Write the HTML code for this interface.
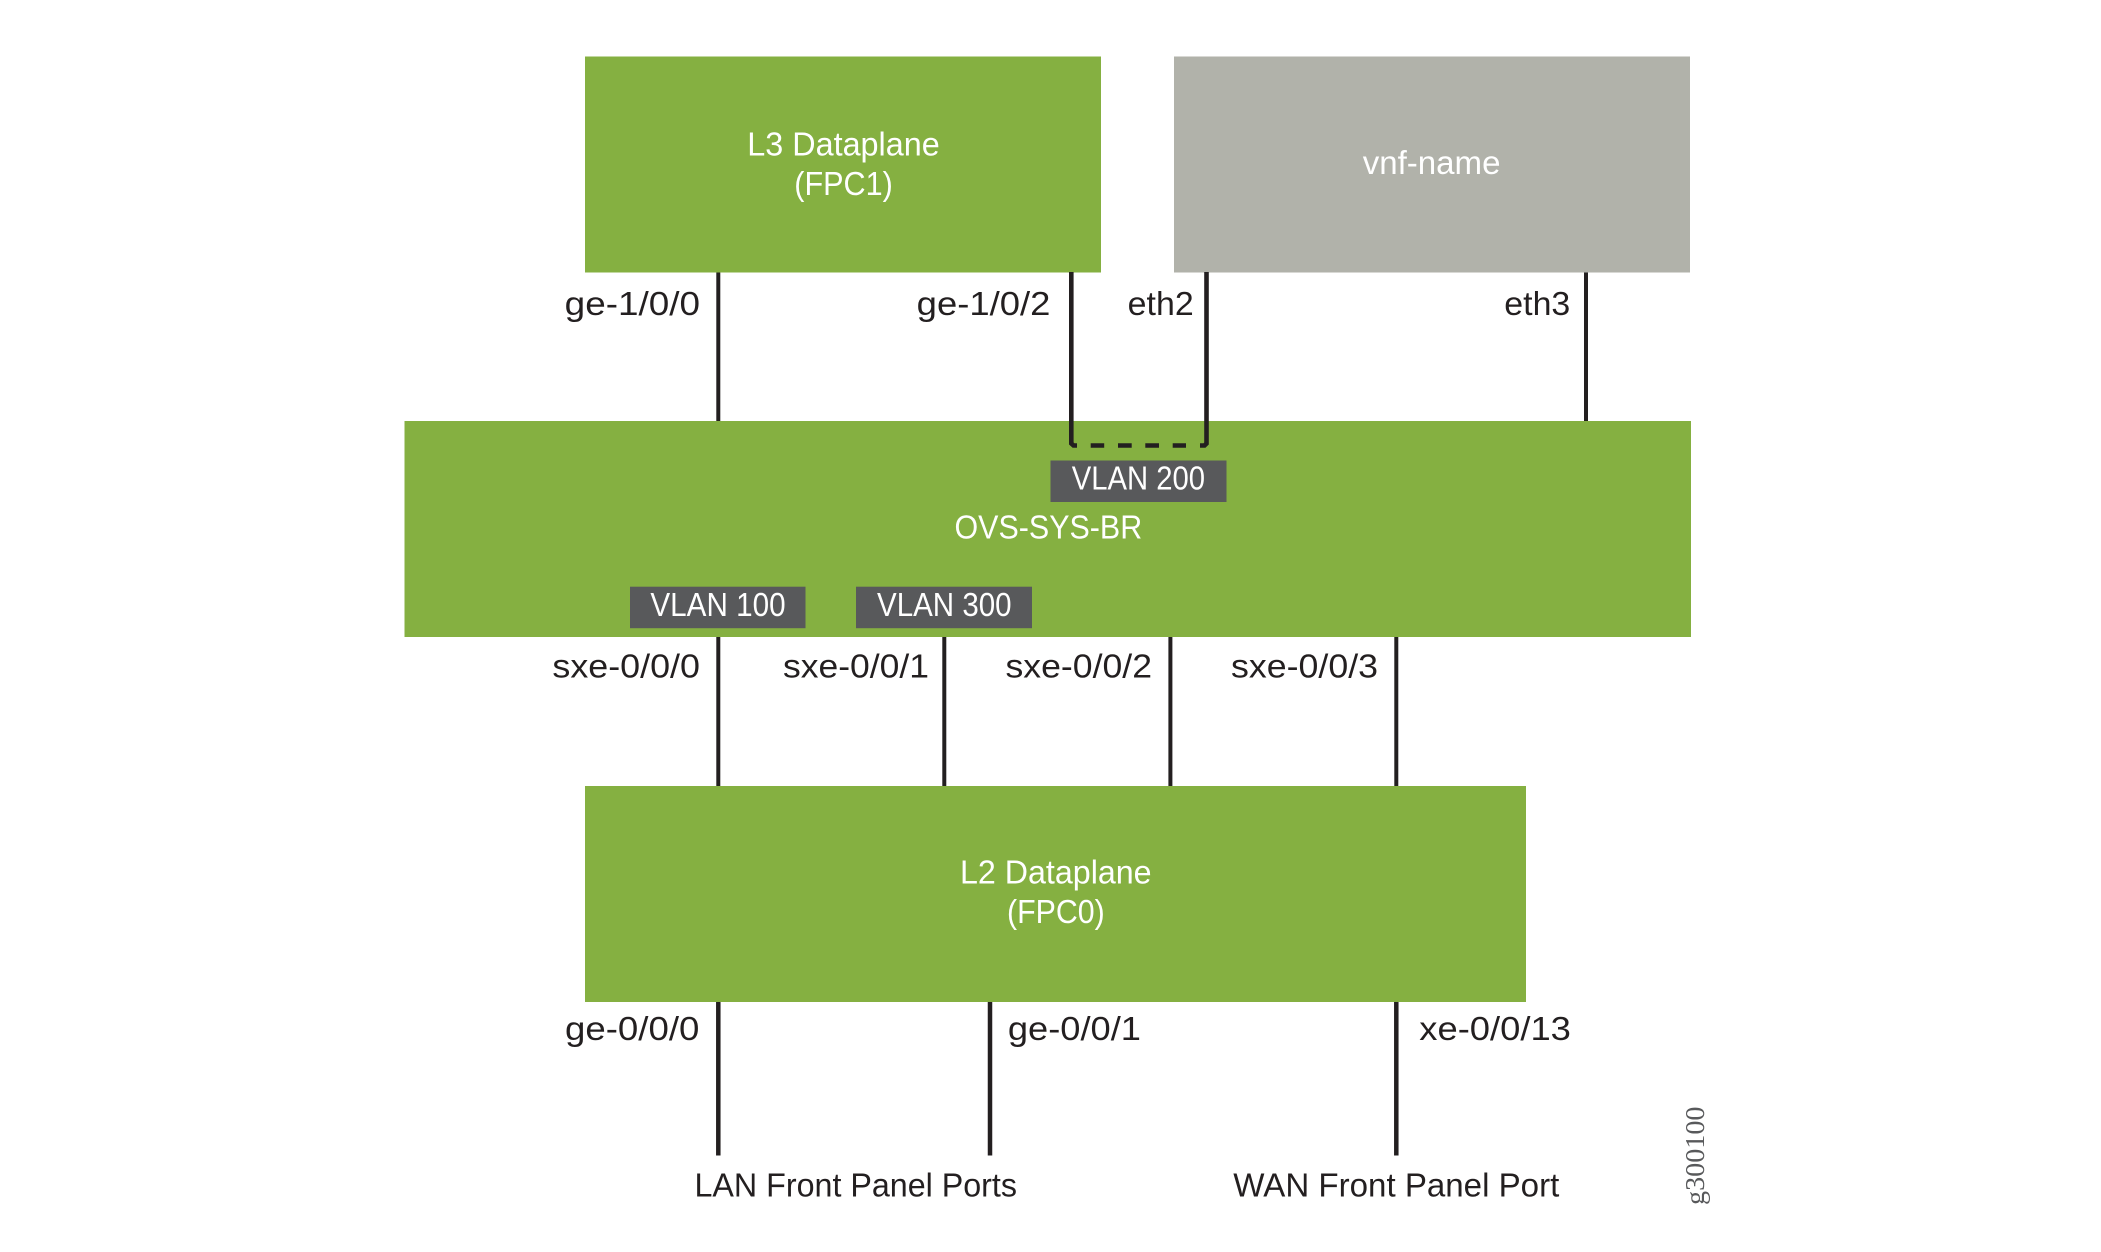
<!DOCTYPE html>
<html>
<head>
<meta charset="utf-8">
<style>
html,body{margin:0;padding:0;background:#fff;width:2101px;height:1252px;overflow:hidden}
svg{display:block}
text{font-family:"Liberation Sans",sans-serif;font-size:33.5px;fill:#231f20}
.w{fill:#fff}
</style>
</head>
<body>
<svg xmlns="http://www.w3.org/2000/svg" width="2101" height="1252" viewBox="0 0 2101 1252">
<rect width="2101" height="1252" fill="#fff"/>
<g stroke="#231f20" stroke-width="4" fill="none">
<path d="M718.300 272V421"/>
<path d="M1586 272V421"/>
<path d="M718.300 637V786"/>
<path d="M944.300 637V786"/>
<path d="M1170.400 637V786"/>
<path d="M1396.300 637V786"/>
<path d="M718.300 1001V1155.500" stroke-width="4.500"/>
<path d="M990 1001V1155.500" stroke-width="4.500"/>
<path d="M1396.300 1001V1155.500" stroke-width="4.500"/>
</g>
<g fill="#85b041">
<rect x="585" y="56.500" width="516" height="216"/>
<rect x="404.500" y="421" width="1286.500" height="216"/>
<rect x="585" y="786" width="941" height="216"/>
</g>
<rect x="1174" y="56.500" width="516" height="216" fill="#b1b2aa"/>
<g stroke="#231f20" fill="none" stroke-width="4.600">
<path d="M1071.300 272V443.500L1073.500 445.500H1077"/>
<path d="M1206.500 272V443.500L1204.500 445.500H1200"/>
<path d="M1090.700 445.500H1104.200M1118 445.500H1131.700M1145.300 445.500H1159M1172.700 445.500H1186"/>
</g>
<g fill="#58595b">
<rect x="1050.500" y="460.500" width="176" height="41.500"/>
<rect x="630" y="586.700" width="175.500" height="41.500"/>
<rect x="856" y="586.700" width="176" height="41.500"/>
</g>
<g class="labels">
<text class="w" x="747.300" y="155.300" textLength="192.400" lengthAdjust="spacingAndGlyphs">L3 Dataplane</text>
<text class="w" x="794.300" y="195" textLength="98.500" lengthAdjust="spacingAndGlyphs">(FPC1)</text>
<text class="w" x="1362.700" y="174" textLength="137.800" lengthAdjust="spacingAndGlyphs">vnf-name</text>
<text x="564.700" y="315" textLength="135.300" lengthAdjust="spacingAndGlyphs">ge-1/0/0</text>
<text x="916.700" y="315" textLength="133.700" lengthAdjust="spacingAndGlyphs">ge-1/0/2</text>
<text x="1127.700" y="315" textLength="66" lengthAdjust="spacingAndGlyphs">eth2</text>
<text x="1504.300" y="315" textLength="66" lengthAdjust="spacingAndGlyphs">eth3</text>
<text class="w" x="1071.700" y="489.300" textLength="133.300" lengthAdjust="spacingAndGlyphs">VLAN 200</text>
<text class="w" x="954.500" y="538.300" textLength="187.700" lengthAdjust="spacingAndGlyphs">OVS-SYS-BR</text>
<text class="w" x="650.400" y="616" textLength="135.200" lengthAdjust="spacingAndGlyphs">VLAN 100</text>
<text class="w" x="877" y="616" textLength="134.600" lengthAdjust="spacingAndGlyphs">VLAN 300</text>
<text x="552.400" y="677.300" textLength="147.600" lengthAdjust="spacingAndGlyphs">sxe-0/0/0</text>
<text x="783" y="677.300" textLength="146" lengthAdjust="spacingAndGlyphs">sxe-0/0/1</text>
<text x="1005.500" y="677.300" textLength="146.500" lengthAdjust="spacingAndGlyphs">sxe-0/0/2</text>
<text x="1231" y="677.300" textLength="147" lengthAdjust="spacingAndGlyphs">sxe-0/0/3</text>
<text class="w" x="960" y="883.300" textLength="191.600" lengthAdjust="spacingAndGlyphs">L2 Dataplane</text>
<text class="w" x="1007" y="923" textLength="97.700" lengthAdjust="spacingAndGlyphs">(FPC0)</text>
<text x="565" y="1040" textLength="134.400" lengthAdjust="spacingAndGlyphs">ge-0/0/0</text>
<text x="1007.900" y="1040" textLength="133.100" lengthAdjust="spacingAndGlyphs">ge-0/0/1</text>
<text x="1419.300" y="1040" textLength="151.600" lengthAdjust="spacingAndGlyphs">xe-0/0/13</text>
<text x="694.500" y="1196.700" textLength="322.500" lengthAdjust="spacingAndGlyphs">LAN Front Panel Ports</text>
<text x="1233.300" y="1196.700" textLength="326" lengthAdjust="spacingAndGlyphs">WAN Front Panel Port</text>
<text transform="translate(1704 1205) rotate(-90)" style="font-family:'Liberation Serif',serif;font-size:27px;fill:#58595b" textLength="98.500" lengthAdjust="spacingAndGlyphs">g300100</text>
</g>
</svg>
</body>
</html>
